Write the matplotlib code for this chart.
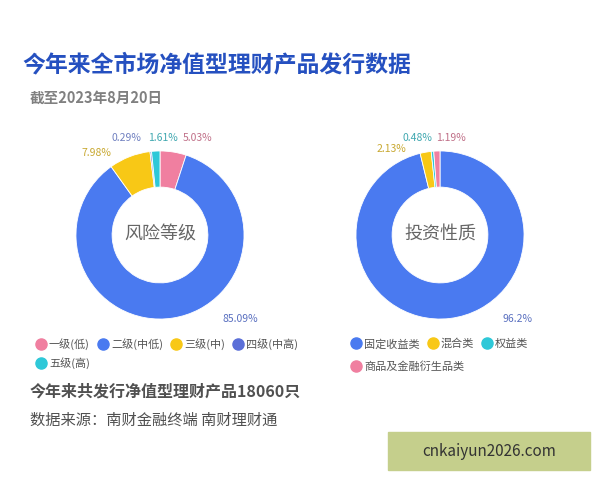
import numpy as np
import matplotlib.pyplot as plt
from matplotlib.lines import Line2D

plt.rcParams['font.family'] = ['Noto Sans CJK SC', 'DejaVu Sans']

risk_labels = ['一级(低)', '二级(中低)', '三级(中)', '四级(中高)', '五级(高)']
risk_values = [5.03, 85.09, 7.98, 0.29, 1.61]
risk_colors = ['#f07fa0', '#4a7af0', '#f8c816', '#5b6fd8', '#2ec8d8']
risk_text_colors = ['#c07088', '#5a70c0', '#c8a830', '#7080c0', '#40a8b0']

type_labels = ['固定收益类', '混合类', '权益类', '商品及金融衍生品类']
type_values = [96.2, 2.13, 0.48, 1.19]
type_colors = ['#4a7af0', '#f8c816', '#2ec8d8', '#f07fa0']
type_text_colors = ['#5a70c0', '#c8a830', '#40a8b0', '#c07088']

fig = plt.figure(figsize=(6, 4.8), dpi=100)
fig.patch.set_facecolor('white')

fig.text(22/600, 1-65/480, '今年来全市场净值型理财产品发行数据', fontsize=16.5,
         fontweight='bold', color='#2550c0', va='center')
fig.text(30/600, 1-98/480, '截至2023年8月20日', fontsize=10.5, fontweight='bold',
         color='#808080', va='center')


def donut(cx, cy, values, colors, tcolors, center_text, label_pos):
    ax = fig.add_axes([(cx-100)/600, (480-cy-100)/480, 200/600, 200/480])
    ax.pie(values, colors=colors, startangle=90, counterclock=False,
           radius=1, wedgeprops=dict(width=0.43, edgecolor='white', linewidth=0.6))
    ax.set_xlim(-1.19, 1.19)
    ax.set_ylim(-1.19, 1.19)
    ax.set_aspect('equal')
    ax.axis('off')
    ax.text(0, 0, center_text, ha='center', va='center', fontsize=13, color='#666666')
    for v, tc, (lx, ly, ha) in zip(values, tcolors, label_pos):
        ax.text(lx, ly, f'{v:g}%', ha=ha, va='center', fontsize=7.5, color=tc)


donut(160, 235, risk_values, risk_colors, risk_text_colors, '风险等级',
      [(0.27, 1.16, 'left'), (0.74, -1.0, 'left'), (-0.58, 0.98, 'right'),
       (-0.22, 1.16, 'right'), (0.04, 1.16, 'center')])
donut(440, 235, type_values, type_colors, type_text_colors, '投资性质',
      [(0.74, -1.0, 'left'), (-0.4, 1.02, 'right'), (-0.27, 1.16, 'center'),
       (-0.05, 1.16, 'left')])


def legend(labels, colors, x, y):
    handles = [Line2D([], [], marker='o', linestyle='', markersize=8,
                      markerfacecolor=c, markeredgecolor=c) for c in colors]
    fig.legend(handles, labels, loc='center left', bbox_to_anchor=(x, y), ncol=len(labels),
               frameon=False, fontsize=8, handletextpad=0.1, columnspacing=0.6,
               labelcolor='#555555', borderaxespad=0, handlelength=1.2)


legend(risk_labels[:4], risk_colors[:4], 30/600, 1-344/480)
legend(risk_labels[4:], risk_colors[4:], 30/600, 1-363/480)
legend(type_labels[:3], type_colors[:3], 345/600, 1-344/480)
legend(type_labels[3:], type_colors[3:], 345/600, 1-367/480)

fig.text(30/600, 1-392/480, '今年来共发行净值型理财产品18060只', fontsize=11.5,
         fontweight='bold', color='#505050', va='center')
fig.text(30/600, 1-420/480, '数据来源：南财金融终端 南财理财通', fontsize=11,
         color='#505050', va='center')

fig.patches.append(plt.Rectangle((388/600, 1-470/480), 202/600, 38/480,
                                 transform=fig.transFigure, color='#c5cf8c'))
fig.text(489/600, 1-451/480, 'cnkaiyun2026.com', fontsize=11, color='#333333',
         ha='center', va='center')

fig.savefig('out.png', dpi=100)
